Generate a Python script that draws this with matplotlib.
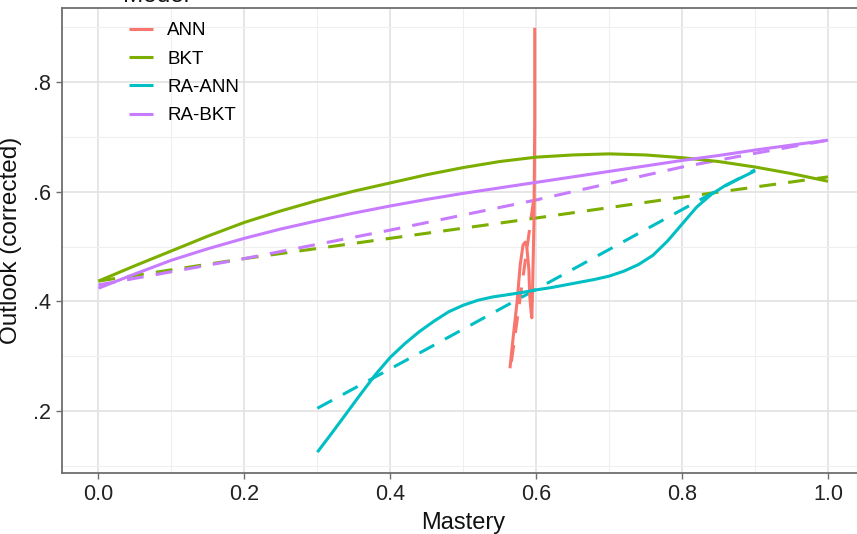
import matplotlib
matplotlib.use('Agg')
import matplotlib.pyplot as plt
from matplotlib.ticker import FixedLocator, FixedFormatter

plt.rcParams['font.family'] = ['Liberation Sans', 'DejaVu Sans']

# ---------------- data ----------------
models = ['ANN', 'BKT', 'RA-ANN', 'RA-BKT']
colors = ['#F8766D', '#7CAE00', '#00BFC4', '#C77CFF']
legend_title = 'Model'

# smoothed (solid) curves
ann_x = [0.564, 0.568, 0.574, 0.578, 0.582, 0.585, 0.587, 0.590, 0.591, 0.593, 0.594, 0.595, 0.597, 0.598, 0.598]
ann_y = [0.278, 0.329, 0.402, 0.466, 0.503, 0.508, 0.501, 0.457, 0.412, 0.381, 0.370, 0.421, 0.548, 0.731, 0.899]

bkt_x = [0.0, 0.05, 0.1, 0.15, 0.2, 0.25, 0.3, 0.35, 0.4, 0.45, 0.5,
         0.55, 0.6, 0.65, 0.7, 0.75, 0.8, 0.85, 0.9, 0.95, 1.0]
bkt_y = [0.437, 0.465, 0.492, 0.519, 0.544, 0.565, 0.584, 0.601, 0.616, 0.631, 0.644,
         0.655, 0.663, 0.667, 0.669, 0.667, 0.662, 0.655, 0.645, 0.633, 0.619]

raann_x = [0.30, 0.32, 0.34, 0.36, 0.38, 0.40, 0.42, 0.44, 0.46, 0.48, 0.50,
           0.52, 0.54, 0.56, 0.58, 0.60, 0.62, 0.64, 0.66, 0.68, 0.70,
           0.72, 0.74, 0.76, 0.78, 0.80, 0.82, 0.84, 0.86, 0.88, 0.90]
raann_y = [0.125, 0.160, 0.196, 0.232, 0.267, 0.298, 0.323, 0.345, 0.364, 0.381, 0.393,
           0.402, 0.408, 0.412, 0.416, 0.421, 0.425, 0.430, 0.435, 0.440, 0.446,
           0.455, 0.467, 0.484, 0.510, 0.541, 0.572, 0.595, 0.612, 0.625, 0.638]

rabkt_x = [0.0, 0.05, 0.1, 0.15, 0.2, 0.25, 0.3, 0.35, 0.4, 0.45, 0.5,
           0.55, 0.6, 0.65, 0.7, 0.75, 0.8, 0.85, 0.9, 0.95, 1.0]
rabkt_y = [0.424, 0.450, 0.475, 0.496, 0.515, 0.532, 0.547, 0.561, 0.574, 0.586, 0.597,
           0.607, 0.617, 0.627, 0.637, 0.647, 0.657, 0.666, 0.676, 0.685, 0.694]

# linear fits (dashed)
ann_fit_x = [0.566, 0.598]
ann_fit_y = [0.290, 0.600]

bkt_fit_x = [0.0, 0.2, 0.4, 0.6, 0.8, 1.0]
bkt_fit_y = [0.437, 0.478, 0.515, 0.552, 0.590, 0.627]

raann_fit_x = [0.30, 0.45, 0.60, 0.75, 0.90]
raann_fit_y = [0.205, 0.313, 0.422, 0.531, 0.640]

rabkt_fit_x = [0.0, 0.2, 0.4, 0.6, 0.8, 0.9, 1.0]
rabkt_fit_y = [0.430, 0.478, 0.530, 0.585, 0.645, 0.670, 0.694]

xticks = [0.0, 0.2, 0.4, 0.6, 0.8, 1.0]
xtick_labels = ['0.0', '0.2', '0.4', '0.6', '0.8', '1.0']
yticks = [0.2, 0.4, 0.6, 0.8]
ytick_labels = ['.2', '.4', '.6', '.8']

# ---------------- figure ----------------
fig = plt.figure(figsize=(8.57, 5.34), dpi=100)
ax = fig.add_axes([62 / 857, 61 / 534, 802.5 / 857, 465 / 534])

lw = 2.2
solid = [(ann_x, ann_y), (bkt_x, bkt_y), (raann_x, raann_y), (rabkt_x, rabkt_y)]
fits = [(ann_fit_x, ann_fit_y), (bkt_fit_x, bkt_fit_y), (raann_fit_x, raann_fit_y), (rabkt_fit_x, rabkt_fit_y)]

for (fx, fy), c in zip(fits, colors):
    ax.plot(fx, fy, color=c, lw=lw, linestyle=(0, (5.5, 4)), dash_capstyle='butt', zorder=3)
for (sx, sy), c, m in zip(solid, colors, models):
    ax.plot(sx, sy, color=c, lw=lw, solid_capstyle='butt', solid_joinstyle='round', label=m, zorder=4)

ax.set_xlim(-0.05, 1.05)
ax.set_ylim(0.087, 0.935)

ax.xaxis.set_major_locator(FixedLocator(xticks))
ax.xaxis.set_major_formatter(FixedFormatter(xtick_labels))
ax.yaxis.set_major_locator(FixedLocator(yticks))
ax.yaxis.set_major_formatter(FixedFormatter(ytick_labels))
ax.xaxis.set_minor_locator(FixedLocator([0.1, 0.3, 0.5, 0.7, 0.9]))
ax.yaxis.set_minor_locator(FixedLocator([0.1, 0.3, 0.5, 0.7, 0.9]))

ax.grid(which='major', color='#E2E2E2', lw=1.2, zorder=0)
ax.grid(which='minor', color='#EFEFEF', lw=0.8, zorder=0)
ax.set_axisbelow(True)

for s in ax.spines.values():
    s.set_color('#6E6E6E')
    s.set_linewidth(1.3)

ax.tick_params(which='major', length=4, width=1.0, color='#6E6E6E', labelsize=15.5,
               labelcolor='#222222', pad=4)
ax.tick_params(which='minor', length=0)

ax.set_xlabel('Mastery', fontsize=17, color='#111111', labelpad=5)
ax.set_ylabel('Outlook (corrected)', fontsize=17.5, color='#111111', labelpad=8)

leg = ax.legend(loc='upper left', bbox_to_anchor=(129 / 857, 1.0 - 22 / 534),
                bbox_transform=fig.transFigure, frameon=False, fontsize=13.5,
                handlelength=1.3, handletextpad=0.75,
                labelspacing=0.6, borderpad=0, borderaxespad=0)

# legend title, cut by the top edge as in the reference
fig.text(123 / 857, 1.0 - 2 / 534, legend_title, fontsize=17.5, color='#111111',
         ha='left', va='baseline')

fig.savefig('out.png', dpi=100)
